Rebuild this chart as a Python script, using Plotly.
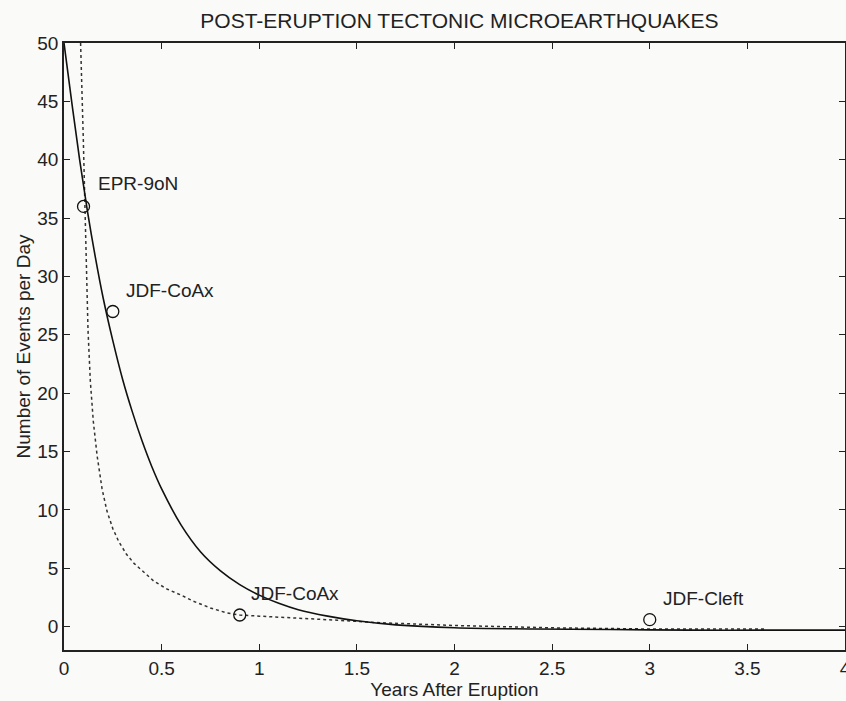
import plotly.graph_objects as go

# Fitted decay (solid)
solid_x = [0, 0.04, 0.08, 0.12, 0.16, 0.2, 0.25, 0.3, 0.35, 0.4, 0.45, 0.5, 0.6, 0.7, 0.8, 0.9,
           1.0, 1.1, 1.2, 1.35, 1.5, 1.7, 2.0, 2.4, 2.8, 3.2, 3.6, 4.0]
solid_y = [50, 44.9, 40.0, 35.6, 31.7, 28.2, 24.5, 21.2, 18.4, 15.9, 13.7, 11.8, 8.7, 6.4, 4.8, 3.6,
           2.7, 2.0, 1.45, 0.9, 0.5, 0.15, -0.1, -0.2, -0.25, -0.3, -0.3, -0.3]

# Dotted curve
dotted_x = [0.085, 0.09, 0.099, 0.108, 0.115, 0.123, 0.135, 0.15, 0.17, 0.195, 0.22, 0.25, 0.28, 0.32,
            0.36, 0.405, 0.46, 0.53, 0.6, 0.66, 0.75, 0.83, 0.9, 1.0, 1.2, 1.4, 1.6, 2.0, 2.5, 3.0, 3.6]
dotted_y = [50, 47.5, 41.7, 35.5, 30.5, 25.4, 21.0, 17.6, 14.6, 11.8, 9.9, 8.4, 7.3, 6.2,
            5.4, 4.7, 3.9, 3.2, 2.7, 2.2, 1.6, 1.2, 1.0, 0.9, 0.75, 0.55, 0.35, 0.1, -0.1, -0.2, -0.2]

# Observed events
obs_x = [0.1, 0.25, 0.9, 3.0]
obs_y = [36, 27, 1, 0.6]

# Labels
label_text = ["EPR-9oN", "JDF-CoAx", "JDF-CoAx", "JDF-Cleft"]
label_x = [0.165, 0.305, 0.95, 3.06]
label_y = [38.0, 28.8, 2.8, 2.4]

x_ticks = [0, 0.5, 1, 1.5, 2, 2.5, 3, 3.5, 4]
x_tick_text = ["0", "0.5", "1", "1.5", "2", "2.5", "3", "3.5", "4"]
y_ticks = [0, 5, 10, 15, 20, 25, 30, 35, 40, 45, 50]

FONT = "Liberation Sans, Arial, Helvetica, sans-serif"

fig = go.Figure()
fig.add_trace(go.Scatter(x=dotted_x, y=dotted_y, mode="lines",
                         line=dict(color="#333333", width=1.5, dash="dot"),
                         showlegend=False, hoverinfo="skip"))
fig.add_trace(go.Scatter(x=solid_x, y=solid_y, mode="lines", line_shape="spline",
                         line=dict(color="#111111", width=1.6),
                         showlegend=False, hoverinfo="skip"))
fig.add_trace(go.Scatter(x=obs_x, y=obs_y, mode="markers",
                         marker=dict(symbol="circle-open", size=12, color="#111111",
                                     line=dict(width=1.3, color="#111111")),
                         showlegend=False))

for t, xx, yy in zip(label_text, label_x, label_y):
    fig.add_annotation(x=xx, y=yy, text=t, showarrow=False, xanchor="left", yanchor="middle",
                       font=dict(family=FONT, size=19, color="#222222"))

axis_common = dict(showline=True, linecolor="#222222", linewidth=1.5, mirror="ticks",
                   ticks="inside", ticklen=6, tickwidth=1.2, tickcolor="#222222",
                   showgrid=False, zeroline=False, ticklabeloverflow="allow", automargin=False,
                   tickfont=dict(family=FONT, size=19, color="#222222"))

fig.update_layout(
    width=846, height=701,
    margin=dict(l=64, r=1, t=43, b=51),
    paper_bgcolor="#fafaf8", plot_bgcolor="#fafaf8",
    title=dict(text="POST-ERUPTION TECTONIC MICROEARTHQUAKES",
               font=dict(family=FONT, size=21, color="#222222"),
               x=0.543, xanchor="center", y=0.97, yanchor="middle"),
    xaxis=dict(range=[0, 4], tickvals=x_ticks, ticktext=x_tick_text,
               title=dict(text="Years After Eruption", standoff=2,
                          font=dict(family=FONT, size=19, color="#222222")),
               **axis_common),
    yaxis=dict(range=[-2, 50], tickvals=y_ticks,
               title=dict(text="Number of Events per Day", standoff=2,
                          font=dict(family=FONT, size=19, color="#222222")),
               **axis_common),
)

fig.write_html("out.html")
